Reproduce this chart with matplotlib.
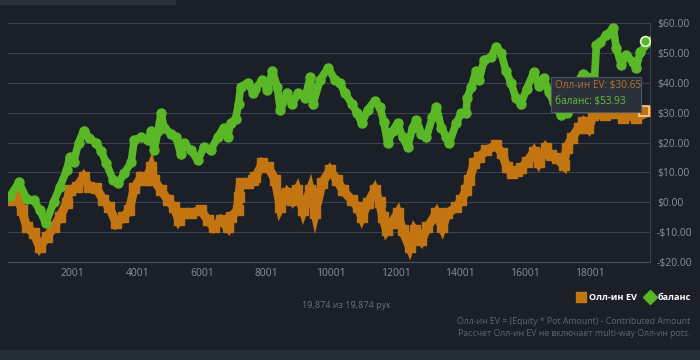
import matplotlib
matplotlib.use("Agg")
import matplotlib.pyplot as plt
from matplotlib.patches import Rectangle, FancyBboxPatch
from matplotlib.ticker import FuncFormatter

plt.rcParams['font.family'] = ['Open Sans', 'DejaVu Sans']

# balance (green) - hand number / dollars
bal_hands = [62, 338, 585, 800, 985, 1169, 1415, 1600, 1815, 1908, 2031, 2185, 2339, 2523,
             2739, 2892, 3046, 3262, 3415, 3600, 3815, 3908, 4123, 4339, 4431, 4523, 4646,
             4739, 4831, 5046, 5200, 5354, 5446, 5662, 5877, 6062, 6277, 6492, 6677, 6800,
             6892, 7046, 7139, 7200, 7415, 7600, 7662, 7877, 8031, 8185, 8339, 8431, 8646,
             8800, 8985, 9200, 9354, 9446, 9662, 9908, 10123, 10277, 10431, 10646, 10800,
             10954, 11139, 11354, 11508, 11631, 11754, 11908, 12062, 12215, 12369, 12523,
             12646, 12800, 12954, 13139, 13262, 13415, 13569, 13662, 13877, 14031, 14185,
             14215, 14339, 14492, 14585, 14739, 14954, 15108, 15262, 15415, 15569, 15723,
             15877, 16062, 16277, 16431, 16585, 16739, 16892, 17108, 17292, 17508, 17723,
             17815, 18062, 18154, 18215, 18339, 18523, 18739, 18831, 18985, 19139, 19354,
             19446, 19569, 19874]
bal = [2, 6.7, 1, 0.7, -2.7, -7, 0, 5, 10.7, 15, 13.5, 19.8, 24, 21.5,
       19.8, 17, 13, 7.3, 6.3, 9.7, 13.4, 20.8, 21.8, 20.8, 24, 17.4, 24,
       29.8, 25, 23, 21.8, 16, 19.8, 17.4, 14, 18.4, 17.4, 21.8, 25, 21.8,
       26.5, 28, 33, 38.5, 40, 36.5, 38, 41, 37.5, 44, 38.5, 30.8, 36.5,
       33, 36.5, 35, 41.8, 33, 41, 45, 41, 40, 36.5, 33, 30,
       26.5, 31, 34, 32, 27, 19.8, 24, 26.5, 21.8, 18.4, 25,
       27.5, 23, 21.8, 28.5, 31.8, 25, 21.8, 19.8, 26.5, 29.8, 29.8,
       35, 38.5, 44, 41, 47.6, 48.6, 52, 50, 44, 40, 35,
       33, 38, 43.6, 39, 41.5, 37, 33.5, 29.2, 30, 35, 41.5,
       43, 41.5, 41, 52.6, 53.6, 56, 58.3, 51.6, 46, 49.3, 47,
       45, 50.3, 53.93]

# all-in EV (orange)
ev_hands = [62, 277, 431, 585, 800, 985, 1200, 1415, 1600, 1815, 1908, 2123, 2339, 2523,
            2739, 2954, 3139, 3354, 3569, 3754, 3908, 4123, 4277, 4431, 4523, 4739, 4954,
            5139, 5292, 5446, 5662, 5969, 6185, 6369, 6585, 6800, 6892, 7108, 7139, 7200,
            7415, 7600, 7662, 7877, 8062, 8277, 8431, 8646, 8800, 8954, 9139, 9354, 9508,
            9723, 9969, 10185, 10369, 10646, 10831, 10954, 11139, 11354, 11508, 11600,
            11723, 11877, 12062, 12215, 12431, 12585, 12800, 12985, 13262, 13446, 13600,
            13877, 14031, 14185, 14277, 14431, 14585, 14800, 15108, 15292, 15446, 15600,
            15754, 15877, 16062, 16277, 16431, 16646, 16800, 16985, 17200, 17292, 17446,
            17662, 17815, 17969, 18123, 18277, 18492, 18677, 18831, 19046, 19262, 19446,
            19874]
ev = [0.7, 3, -2.7, -8.4, -10.4, -15, -11.7, -8.4, -5, -0.3, 4, 5, 8.4, 5,
      4.7, 0.7, -1.7, -7, -5, -2.7, 4.7, 8.4, 7.4, 11.7, 7.4, 4, 0.7,
      -1.7, -6, -3.7, -3.7, -2.7, -6, -8.4, -6, -8.4, -5, -2.7, 1.7, 6.4,
      6.4, 7.4, 8.4, 13, 11.7, 7.4, -1.7, 3, 0.7, 4, -2.7, 4, -3.7,
      6.4, 10.7, 7.4, 4, 0.7, -1.7, -5, -0.3, 4, 0, -5,
      -9.4, -7, -3.7, -9.4, -15, -9.4, -12.7, -8.4, -3.7, -8.4, -3.7,
      -1.7, 0.7, 4, 7.4, 13, 15, 17.4, 19, 16.4, 11.7, 9.7,
      10.5, 11.4, 13.4, 16.8, 13.4, 18, 15.7, 14.7, 12.4, 18, 21.4,
      24.8, 26.8, 24.8, 29.2, 30, 29.2, 31.5, 30, 28.2, 29.2, 28.2,
      30.65]

xticks = [2001, 4001, 6001, 8001, 10001, 12001, 14001, 16001, 18001]
total_hands = 19874

bg = '#1a1f28'
orange = '#c27510'
green = '#5ab726'

fig = plt.figure(figsize=(7, 3.6), dpi=100, facecolor=bg)
ax = fig.add_axes([8/700, 1-262/360, 642/700, 239/360])
ax.set_facecolor(bg)

ax.plot(ev_hands, ev, color=orange, lw=6.5, solid_capstyle='butt', solid_joinstyle='miter', zorder=3)
ax.plot(ev_hands, ev, 's', color=orange, ms=7, zorder=3)
ax.plot(bal_hands, bal, color=green, lw=5.5, solid_capstyle='round', zorder=4)
ax.plot(bal_hands, bal, 'o', color=green, ms=6.5, zorder=4)

# hover markers
ax.plot(ev_hands[-1] - 200, ev[-1], 's', ms=7, mfc=orange, mec='#f0d0a0', mew=1.2, zorder=6)
ax.plot(bal_hands[-1] - 150, bal[-1], 'o', ms=7, mfc=green, mec='#e8f5e0', mew=1.2, zorder=6)

ax.set_xlim(1, total_hands)
ax.set_ylim(-20, 60)
ax.set_yticks(range(-20, 61, 10))
ax.set_xticks(xticks)
ax.set_xticklabels([str(t) for t in xticks])
ax.yaxis.tick_right()
ax.yaxis.set_major_formatter(FuncFormatter(lambda v, p: ('-$%.2f' % -v) if v < 0 else '$%.2f' % v))
ax.grid(axis='y', color='#3b424d', lw=0.8)
ax.tick_params(colors='#8a9099', labelsize=7.5, length=0, pad=5)
ax.tick_params(axis='x', pad=4)
for s in ['top', 'left']:
    ax.spines[s].set_visible(False)
ax.spines['bottom'].set_color('#4a515c')
ax.spines['right'].set_color('#3b424d')
ax.spines['right'].set_linewidth(0.8)

# tooltip
tip = FancyBboxPatch((551/700, 1-112/360), 90/700, 35/360, boxstyle='square,pad=0',
                     transform=fig.transFigure, fc='#2b313b', ec='#50565f', lw=0.8, zorder=10)
fig.patches.append(tip)
fig.text(555/700, 1-88/360, 'Олл-ин EV: $30.65', color='#b4742c', fontsize=7.2, zorder=11)
fig.text(555/700, 1-104/360, 'баланс: $53.93', color='#66bf33', fontsize=7.2, zorder=11)

# top strip and bottom band
fig.patches.append(Rectangle((0, 1-4/360), 175/700, 4/360, transform=fig.transFigure,
                             color='#28303b', zorder=0))
fig.patches.append(Rectangle((0, 0), 1, 10/360, transform=fig.transFigure,
                             color='#252d37', zorder=0))

fig.text(346/700, 1-305/360, '19,874 из 19,874 рук', color='#6c737d', fontsize=6.5,
         ha='center', va='center')

# legend
fig.patches.append(Rectangle((576/700, 1-302/360), 10/700, 10/360, transform=fig.transFigure,
                             color=orange, zorder=5))
fig.text(589/700, 1-297/360, 'Олл-ин EV', color='white', fontsize=6.6, fontweight='bold',
         va='center')
fig.lines.append(plt.Line2D([650/700], [1-297/360], marker='D', ms=7, color=green,
                            transform=fig.transFigure))
fig.text(658/700, 1-297/360, 'баланс', color='white', fontsize=6.6, fontweight='bold',
         va='center')

fig.text(690/700, 1-322/360, 'Олл-ин EV = (Equity * Pot Amount) - Contributed Amount',
         color='#5f6670', fontsize=6.3, ha='right', va='center')
fig.text(690/700, 1-334/360, 'Рассчет Олл-ин EV не включает multi-way Олл-ин pots.',
         color='#5f6670', fontsize=6.3, ha='right', va='center')

fig.savefig('out.png', dpi=100, facecolor=bg)
